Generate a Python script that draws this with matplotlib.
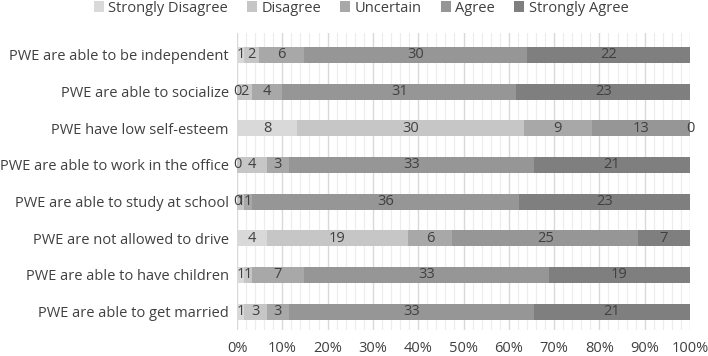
import matplotlib
matplotlib.use("Agg")
import matplotlib.pyplot as plt
import numpy as np
from matplotlib.ticker import MultipleLocator, PercentFormatter

categories = [
    "PWE are able to be independent",
    "PWE are able to socialize",
    "PWE have low self-esteem",
    "PWE are able to work in the office",
    "PWE are able to study at school",
    "PWE are not allowed to drive",
    "PWE are able to have children",
    "PWE are able to get married",
]
series_names = ["Strongly Disagree", "Disagree", "Uncertain", "Agree", "Strongly Agree"]
strongly_disagree = [1, 0, 8, 0, 0, 4, 1, 1]
disagree = [2, 2, 30, 4, 1, 19, 1, 3]
uncertain = [6, 4, 9, 3, 1, 6, 7, 3]
agree = [30, 31, 13, 33, 36, 25, 33, 33]
strongly_agree = [22, 23, 0, 21, 23, 7, 19, 21]
colors = ["#d9d9d9", "#c6c6c6", "#a8a8a8", "#969696", "#7f7f7f"]

plt.rcParams['font.family'] = ['Open Sans', 'DejaVu Sans']
txt = "#404040"

fig = plt.figure(figsize=(7.08, 3.56), dpi=100)
ax = fig.add_axes([237/708, 1-330/356, (690-237)/708, (330-33)/356])

data = np.array([strongly_disagree, disagree, uncertain, agree, strongly_agree], dtype=float)
totals = data.sum(axis=0)
pct = data / totals * 100
y = np.arange(len(categories))
left = np.zeros(len(categories))
handles = []
for i, name in enumerate(series_names):
    h = ax.barh(y, pct[i], left=left, height=0.44, color=colors[i], label=name, zorder=3)
    handles.append(h)
    for j in range(len(categories)):
        ax.text(left[j] + pct[i][j]/2, y[j], str(int(data[i][j])), ha='center', va='center',
                fontsize=10.5, color=txt, zorder=4)
    left += pct[i]

ax.set_xlim(0, 100)
ax.set_ylim(7.5, -0.6)
ax.set_yticks(y)
ax.set_yticklabels(categories, fontsize=10.5, color=txt)
ax.xaxis.set_major_locator(MultipleLocator(10))
ax.xaxis.set_minor_locator(MultipleLocator(2))
ax.xaxis.set_major_formatter(PercentFormatter(decimals=0))
ax.tick_params(axis='x', labelsize=10.5, labelcolor=txt, length=0, which='both', pad=8)
ax.tick_params(axis='y', length=0, pad=6)
ax.grid(axis='x', which='major', color='#d9d9d9', linewidth=1, zorder=0)
ax.grid(axis='x', which='minor', color='#ececec', linewidth=0.8, zorder=0)
for s in ax.spines.values():
    s.set_visible(False)

fig.legend(handles=handles, labels=series_names, loc='upper center', bbox_to_anchor=(0.51, 1.035),
           ncol=5, frameon=False, fontsize=10.5, handlelength=0.7, handleheight=0.7,
           handletextpad=0.3, columnspacing=1.3, labelcolor=txt)

fig.savefig("out.png", dpi=100)
